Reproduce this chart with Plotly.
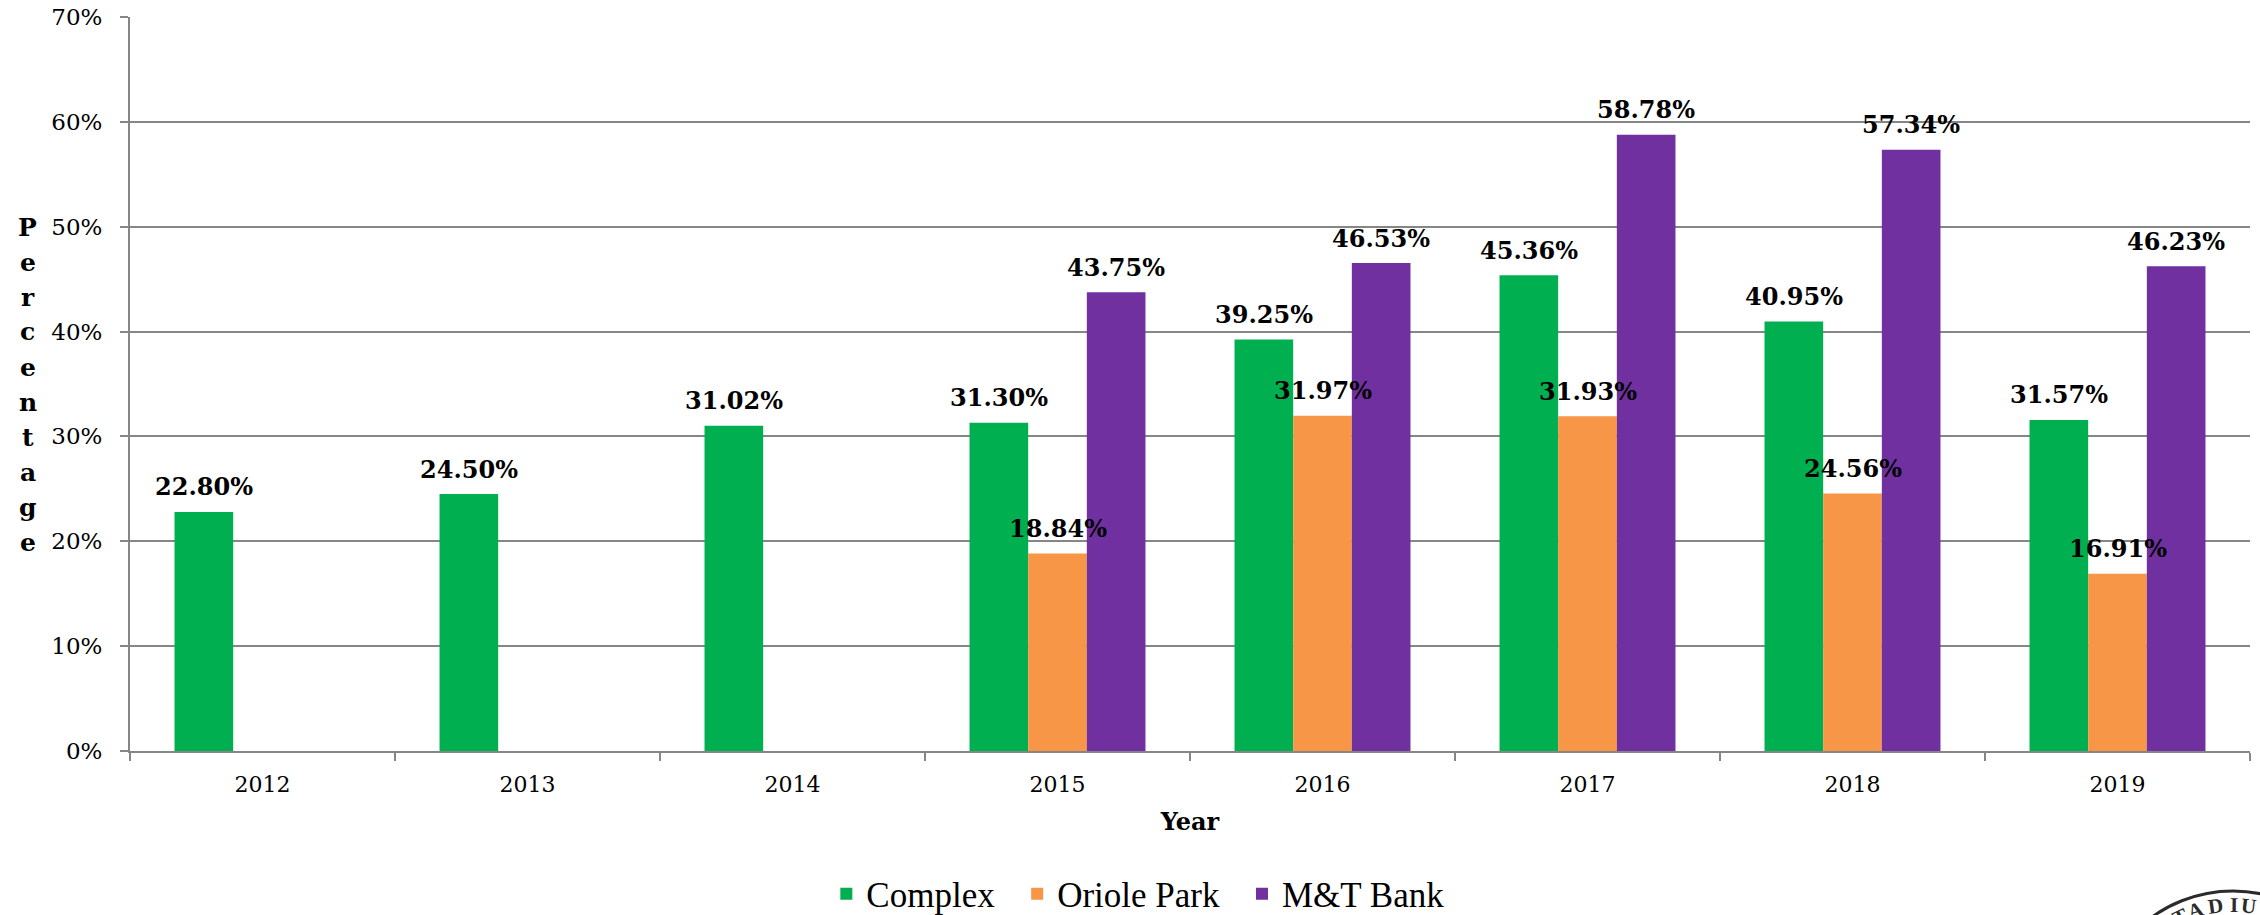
import math
import plotly.graph_objects as go

years = ["2012", "2013", "2014", "2015", "2016", "2017", "2018", "2019"]
complex_vals = [22.80, 24.50, 31.02, 31.30, 39.25, 45.36, 40.95, 31.57]
oriole_vals = [None, None, None, 18.84, 31.97, 31.93, 24.56, 16.91]
mt_vals = [None, None, None, 43.75, 46.53, 58.78, 57.34, 46.23]
series_names = ["Complex", "Oriole Park", "M&T Bank"]
series_colors = ["#00B050", "#F79646", "#7030A0"]
y_title = "Percentage"
seal_letters = ["T", "A", "D", "I", "U"]
seal_angles = [-25, -17, -8, 0.5, 7]

W, H = 2260, 915
L, R, T, B = 129.5, 10, 17, 164
GRAY = "#868686"
SERIF = "DejaVu Serif"
BARGAP = 0.336
LABEL_RISE = 25
LEGEND_SPACER = "\u00a0\u00a0"
plot_w = W - L - R
plot_h = H - T - B
bar_w = plot_w / len(years) * (1 - BARGAP) / 3


def px(x):
    return (x - L) / plot_w


def py(y):
    return (H - B - y) / plot_h


series_vals = [complex_vals, oriole_vals, mt_vals]
fig = go.Figure()
for name, vals, col in zip(series_names, series_vals, series_colors):
    fig.add_trace(go.Bar(
        x=years, y=vals, name=name + LEGEND_SPACER, marker=dict(color=col, line=dict(width=0)),
        hovertemplate=name + ": %{y:.2f}%<extra>%{x}</extra>",
    ))

annotations = []
# Value labels sit above every bar, so they are drawn on top of neighbouring bars
for s, vals in enumerate(series_vals):
    for idx, v in enumerate(vals):
        if v is None:
            continue
        annotations.append(dict(
            text=f"<b>{v:.2f}%</b>", x=idx, y=v, xref="x", yref="y", showarrow=False,
            xanchor="center", yanchor="middle", xshift=(s - 1) * bar_w, yshift=LABEL_RISE,
            font=dict(family=SERIF, size=24, color="#000000"),
        ))

for i, ch in enumerate(y_title):
    annotations.append(dict(
        text=f"<b>{ch}</b>", xref="paper", yref="paper", showarrow=False,
        x=px(27), y=py(227 + i * 35), xanchor="center", yanchor="middle",
        font=dict(family=SERIF, size=25, color="#000000"),
    ))

# Partial seal in the bottom right corner of the page
SEAL_CX, SEAL_CY, SEAL_R, SEAL_TEXT_R = 2233, 1030, 139, 125
shapes = [dict(
    type="circle", xref="paper", yref="paper", layer="above",
    x0=px(SEAL_CX - SEAL_R), x1=px(SEAL_CX + SEAL_R),
    y0=py(SEAL_CY + SEAL_R), y1=py(SEAL_CY - SEAL_R),
    line=dict(color="#2b2b2b", width=3),
)]
for ch, ang in zip(seal_letters, seal_angles):
    a = math.radians(ang)
    annotations.append(dict(
        text=f"<b>{ch}</b>", xref="paper", yref="paper", showarrow=False,
        x=px(SEAL_CX + SEAL_TEXT_R * math.sin(a)), y=py(SEAL_CY - SEAL_TEXT_R * math.cos(a)),
        xanchor="center", yanchor="middle", textangle=ang,
        font=dict(family="Liberation Serif", size=21, color="#2b2b2b"),
    ))

fig.update_layout(
    template="none",
    width=W, height=H, autosize=False,
    margin=dict(l=L, r=R, t=T, b=B, pad=0, autoexpand=False),
    paper_bgcolor="white", plot_bgcolor="white",
    barmode="group", bargap=BARGAP, bargroupgap=0,
    annotations=annotations, shapes=shapes,
    legend=dict(
        orientation="h", x=px(826), y=py(894),
        xanchor="left", yanchor="middle",
        font=dict(family="Liberation Serif", size=35, color="#000000"),
        bgcolor="rgba(0,0,0,0)",
    ),
    xaxis=dict(
        type="category", categoryorder="array", categoryarray=years,
        range=[-0.5, len(years) - 0.5], automargin=False,
        tickson="boundaries", ticks="outside", ticklen=8, tickwidth=2,
        tickcolor=GRAY, ticklabelstandoff=13, tickangle=0,
        showline=True, linecolor=GRAY, linewidth=2, showgrid=False, zeroline=False,
        tickfont=dict(family=SERIF, size=22, color="#000000"),
        title=dict(text="<b>Year</b>", font=dict(family=SERIF, size=24, color="#000000"), standoff=17),
    ),
    yaxis=dict(
        range=[0, 70], tick0=0, dtick=10, ticksuffix="%", automargin=False,
        ticks="outside", ticklen=8, tickwidth=2, tickcolor=GRAY, ticklabelstandoff=13,
        showline=True, linecolor=GRAY, linewidth=2, showgrid=True, gridcolor=GRAY, gridwidth=2,
        zeroline=False, tickfont=dict(family=SERIF, size=23, color="#000000"),
    ),
)

fig.write_html(
    "out.html",
    config={"displayModeBar": False},
    post_script="document.body.style.margin='0';document.body.style.overflow='hidden';",
)
